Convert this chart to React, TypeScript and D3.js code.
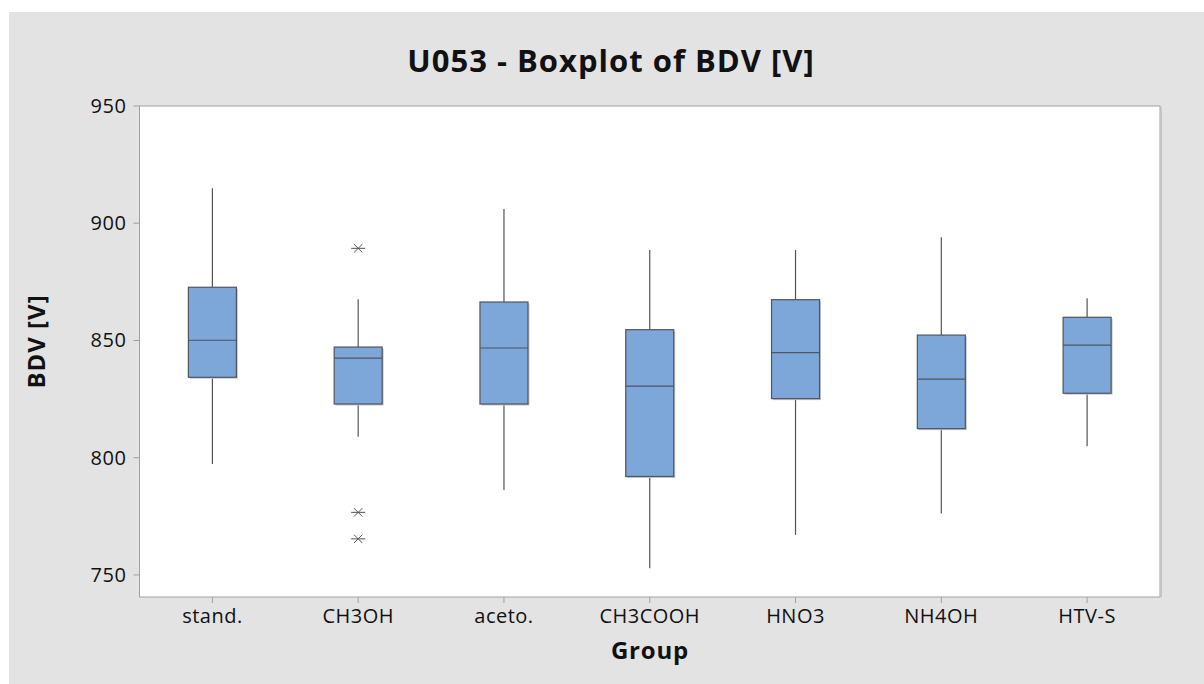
import React from 'react'
import * as d3 from 'd3'

const groups = ['stand.', 'CH3OH', 'aceto.', 'CH3COOH', 'HNO3', 'NH4OH', 'HTV-S']
// whisker low, Q1, median, Q3, whisker high
const whiskerLow = [797.3, 808.9, 786.2, 752.9, 767.1, 776.2, 804.9]
const q1 = [834.3, 822.9, 822.9, 792.0, 825.2, 812.4, 827.5]
const median = [850.1, 842.5, 846.8, 830.5, 844.8, 833.5, 848.0]
const q3 = [872.7, 847.2, 866.4, 854.6, 867.4, 852.3, 859.9]
const whiskerHigh = [914.9, 867.6, 906.1, 888.6, 888.6, 894.0, 868.0]
const outliers = [[], [889.3, 776.7, 765.4], [], [], [], [], []]
const yTicks = [750, 800, 850, 900, 950]

const W = 1204
const H = 684
const plot = { left: 139.5, right: 1160, top: 106, bottom: 597 }
const font = '"Open Sans", "Noto Sans", sans-serif'

export default function App() {
  const x = d3.scaleBand().domain(groups).range([plot.left, plot.right]).paddingInner(0).paddingOuter(0)
  const y = d3.scaleLinear().domain([740.6, 950]).range([plot.bottom, plot.top])
  const boxW = 48
  const cx = (g: string) => x(g)! + x.bandwidth() / 2

  return (
    <div style={{ position: 'fixed', left: 0, top: 0 }}>
      <svg width={W} height={H} style={{ display: 'block' }}>
        <rect x={0} y={0} width={W} height={H} fill="#fff" />
        <rect x={9} y={12} width={W - 9} height={H - 12} fill="#e3e3e3" />
        <rect
          x={plot.left}
          y={plot.top}
          width={plot.right - plot.left}
          height={plot.bottom - plot.top}
          fill="#fff"
          stroke="#a0a0a0"
          strokeWidth={1}
        />
        <line x1={plot.right + 1} x2={plot.right + 1} y1={plot.top + 1} y2={plot.bottom} stroke="#c4c4c4" strokeWidth={2} />

        {/* y axis */}
        {yTicks.map((t) => (
          <g key={t}>
            <line x1={plot.left - 6} x2={plot.left} y1={y(t)} y2={y(t)} stroke="#a0a0a0" />
            <text x={plot.left - 13} y={y(t)} dy="0.35em" textAnchor="end" fontFamily={font} fontSize={20} letterSpacing={0.6} fill="#111">
              {t}
            </text>
          </g>
        ))}

        {/* x axis */}
        {groups.map((g) => (
          <g key={g}>
            <line x1={cx(g)} x2={cx(g)} y1={plot.bottom} y2={plot.bottom + 6} stroke="#a0a0a0" />
            <text x={cx(g)} y={plot.bottom + 26} textAnchor="middle" fontFamily={font} fontSize={20} letterSpacing={0.5} fill="#111">
              {g}
            </text>
          </g>
        ))}

        {/* boxes */}
        {groups.map((g, i) => {
          const c = cx(g)
          return (
            <g key={g}>
              <line x1={c} x2={c} y1={y(whiskerHigh[i])} y2={y(q3[i])} stroke="#555" strokeWidth={1.2} />
              <line x1={c} x2={c} y1={y(q1[i])} y2={y(whiskerLow[i])} stroke="#555" strokeWidth={1.2} />
              <rect
                x={c - boxW / 2 + 1.5}
                y={y(q3[i]) + 1.5}
                width={boxW}
                height={y(q1[i]) - y(q3[i])}
                fill="#c8c8c8"
              />
              <rect
                x={c - boxW / 2}
                y={y(q3[i])}
                width={boxW}
                height={y(q1[i]) - y(q3[i])}
                fill="#7ca7d8"
                stroke="#505560"
                strokeWidth={1.2}
              />
              <line x1={c - boxW / 2} x2={c + boxW / 2} y1={y(median[i])} y2={y(median[i])} stroke="#505560" strokeWidth={1.2} />
              {outliers[i].map((o, k) => {
                const oy = y(o)
                const r = 7
                return (
                  <g key={k} stroke="#555" strokeWidth={1}>
                    <line x1={c - r} x2={c + r} y1={oy} y2={oy} />
                    <line x1={c - r * 0.6} x2={c + r * 0.6} y1={oy - r * 0.6} y2={oy + r * 0.6} />
                    <line x1={c - r * 0.6} x2={c + r * 0.6} y1={oy + r * 0.6} y2={oy - r * 0.6} />
                  </g>
                )
              })}
            </g>
          )
        })}

        <text x={611} y={72} textAnchor="middle" fontFamily={font} fontWeight="bold" fontSize={31} letterSpacing={1} fill="#111">
          U053 - Boxplot of BDV [V]
        </text>
        <text
          transform={`translate(45,${(plot.top + plot.bottom) / 2 - 10}) rotate(-90)`}
          textAnchor="middle"
          fontFamily={font}
          fontWeight="bold"
          fontSize={24}
          letterSpacing={1}
          fill="#111"
        >
          BDV [V]
        </text>
        <text x={650} y={659} textAnchor="middle" fontFamily={font} fontWeight="bold" fontSize={24} letterSpacing={0.8} fill="#111">
          Group
        </text>
      </svg>
    </div>
  )
}
